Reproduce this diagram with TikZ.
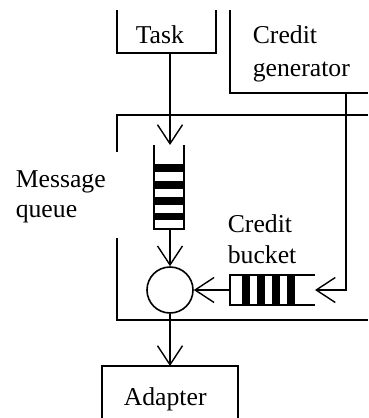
\documentclass[tikz,border=0pt]{standalone}
\usepackage{fontspec}
\setmainfont{Liberation Serif}
\usetikzlibrary{arrows.meta}
\begin{document}
\begin{tikzpicture}[x=1pt,y=-1pt,
  line width=1.6pt,
  arr/.style={-{Straight Barb[length=19pt,width=25pt,line width=1.4pt]},line width=1.4pt},
  lbl/.style={anchor=base west,inner sep=0pt,font=\fontsize{25.7}{30}\selectfont},
  bar/.style={fill=black,draw=none}]
\useasboundingbox (0,0) rectangle (368,418);
% Task box
\draw (117,10) -- (117,53) -- (216,53) -- (216,10);
\node[lbl] (task) at (135,43) {Task};
\coordinate (taskout) at (170,53);
% Credit generator
\draw (230,10) -- (230,93) -- (368,93);
\node[lbl] (cg1) at (252,43) {Credit};
\node[lbl] (cg2) at (252,76) {generator};
\coordinate (cgout) at (346,93);
% big box
\draw (117,152) -- (117,115) -- (368,115);
\draw (117,238) -- (117,320) -- (368,320);
\node[lbl] (mq1) at (15,187) {Message};
\node[lbl] (mq2) at (15,217) {queue};
% message queue
\draw (154,145) -- (154,229) -- (184,229) -- (184,145);
\foreach \a/\b in {164/172,181/188.5,197/204.5,213/220}
  \fill[bar] (154,\a) rectangle (184,\b);
\coordinate (qin) at (170,145);
\coordinate (qout) at (170,229);
% merge circle
\node[circle,draw,minimum size=46pt,inner sep=0pt] (merge) at (170,290) {};
% credit bucket
\draw (315,275) -- (230,275) -- (230,305) -- (315,305);
\foreach \a in {242,257,272,287}
  \fill[bar] (\a,275) rectangle (\a+8,305);
\coordinate (bin) at (315,290);
\coordinate (bout) at (230,290);
\coordinate (bend) at (346,290);
\node[lbl] (cb1) at (227,232) {Credit};
\node[lbl] (cb2) at (227,263) {bucket};
% adapter
\draw (102,420) -- (102,366) -- (238,366) -- (238,420);
\node[lbl] (adapter) at (123,405) {Adapter};
\coordinate (ain) at (170,366);
% connectors
\draw[arr] (taskout) -- (qin);
\draw[arr] (qout) -- (merge.north);
\draw[arr] (bout) -- (merge.east);
\draw[arr] (cgout) -- (bend) -- (bin);
\draw[arr] (merge.south) -- (ain);
\end{tikzpicture}
\end{document}
